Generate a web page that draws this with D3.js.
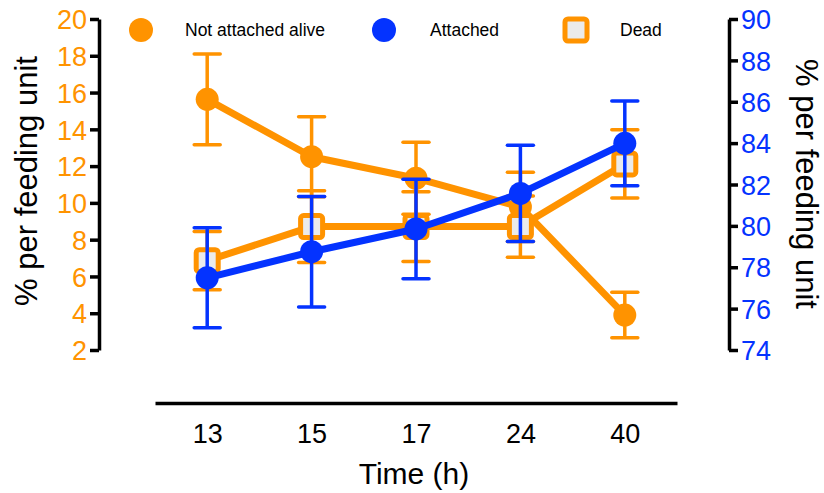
<!DOCTYPE html>
<html>
<head>
<meta charset="utf-8">
<script src="https://cdn.jsdelivr.net/npm/d3@7"></script>
<style>
  body { margin: 0; background: #fff; }
  svg { font-family: "Liberation Sans", Arial, sans-serif; }
  .axis path, .axis line { stroke: #000; stroke-width: 3.5; }
</style>
</head>
<body>
<div id="chart"></div>
<script>
// values
var times = ["13", "15", "17", "24", "40"];
var aliveMean = [15.63, 12.51, 11.34, 9.78, 3.90];
var aliveErr = [2.47, 2.18, 1.96, 1.88, 1.24];
var deadMean = [6.86, 8.71, 8.71, 8.71, 12.12];
var deadErr = [1.58, 1.95, 1.90, 1.67, 1.86];
var attachedMean = [77.49, 78.75, 79.85, 81.57, 83.99];
var attachedErr = [2.42, 2.67, 2.40, 2.33, 2.05];
var leftTicks = [2, 4, 6, 8, 10, 12, 14, 16, 18, 20];
var rightTicks = [74, 76, 78, 80, 82, 84, 86, 88, 90];
var legendNames = ["Not attached alive", "Attached", "Dead"];

var orange = "#FF9300", blue = "#0433FF";
var width = 824, height = 493;

var svg = d3.select("#chart").append("svg")
    .attr("width", width)
    .attr("height", height);

var x = d3.scalePoint().domain(times).range([155, 677]).padding(0.5);
var yL = d3.scaleLinear().domain([2, 20]).range([350, 19]);
var yR = d3.scaleLinear().domain([74, 90]).range([350, 19]);

// left axis
var gL = svg.append("g")
    .attr("class", "axis")
    .attr("transform", "translate(99,0)")
    .call(d3.axisLeft(yL).tickValues(leftTicks).tickSize(9).tickSizeOuter(0).tickPadding(3));
gL.selectAll("text").attr("fill", orange).style("font-size", "27px").attr("dy", "0.36em");

// right axis
var gR = svg.append("g")
    .attr("class", "axis")
    .attr("transform", "translate(729,0)")
    .call(d3.axisRight(yR).tickValues(rightTicks).tickSize(9).tickSizeOuter(0).tickPadding(3));
gR.selectAll("text").attr("fill", blue).style("font-size", "27px").attr("dy", "0.36em");

// bottom axis (offset, no ticks)
var gX = svg.append("g")
    .attr("class", "axis")
    .attr("transform", "translate(0,403)")
    .call(d3.axisBottom(x).tickSize(0).tickSizeOuter(0).tickPadding(21));
gX.selectAll("text").attr("fill", "#000").style("font-size", "27px").attr("dy", "0.72em");

// axis titles
svg.append("text")
    .attr("transform", "translate(37,181) rotate(-90)")
    .attr("text-anchor", "middle")
    .style("font-size", "31px")
    .text("% per feeding unit");

svg.append("text")
    .attr("transform", "translate(796,184) rotate(90)")
    .attr("text-anchor", "middle")
    .style("font-size", "31px")
    .text("% per feeding unit");

svg.append("text")
    .attr("x", 414)
    .attr("y", 484)
    .attr("text-anchor", "middle")
    .style("font-size", "30px")
    .text("Time (h)");

function drawSeries(mean, err, yScale, color, shape) {
    var g = svg.append("g");
    var line = d3.line()
        .x(function(d, i) { return x(times[i]); })
        .y(function(d) { return yScale(d); });

    // error bars
    mean.forEach(function(m, i) {
        var cx = x(times[i]);
        g.append("line")
            .attr("x1", cx).attr("x2", cx)
            .attr("y1", yScale(m - err[i])).attr("y2", yScale(m + err[i]))
            .attr("stroke", color).attr("stroke-width", 3.5);
        [m - err[i], m + err[i]].forEach(function(v) {
            g.append("line")
                .attr("x1", cx - 13).attr("x2", cx + 13)
                .attr("y1", yScale(v)).attr("y2", yScale(v))
                .attr("stroke", color).attr("stroke-width", 3.5)
                .attr("stroke-linecap", "round");
        });
    });

    g.append("path")
        .attr("d", line(mean))
        .attr("fill", "none")
        .attr("stroke", color)
        .attr("stroke-width", 7)
        .attr("stroke-linejoin", "round");

    if (shape == "circle") {
        g.selectAll("circle").data(mean).enter().append("circle")
            .attr("cx", function(d, i) { return x(times[i]); })
            .attr("cy", function(d) { return yScale(d); })
            .attr("r", 11.5)
            .attr("fill", color);
    } else {
        g.selectAll("rect").data(mean).enter().append("rect")
            .attr("x", function(d, i) { return x(times[i]) - 11; })
            .attr("y", function(d) { return yScale(d) - 11; })
            .attr("width", 22).attr("height", 22)
            .attr("rx", 3)
            .attr("fill", "#ebebeb")
            .attr("stroke", color)
            .attr("stroke-width", 5);
    }
}

drawSeries(aliveMean, aliveErr, yL, orange, "circle");
drawSeries(deadMean, deadErr, yL, orange, "square");
drawSeries(attachedMean, attachedErr, yR, blue, "circle");

// legend
var legend = svg.append("g");
legend.append("circle").attr("cx", 141).attr("cy", 30).attr("r", 12).attr("fill", orange);
legend.append("circle").attr("cx", 384).attr("cy", 30).attr("r", 12).attr("fill", blue);
legend.append("rect").attr("x", 565).attr("y", 19).attr("width", 22).attr("height", 22)
    .attr("rx", 3).attr("fill", "#ebebeb").attr("stroke", orange).attr("stroke-width", 5);
[185, 430, 620].forEach(function(lx, i) {
    legend.append("text")
        .attr("x", lx).attr("y", 36)
        .style("font-size", "17.5px")
        .text(legendNames[i]);
});
</script>
</body>
</html>
